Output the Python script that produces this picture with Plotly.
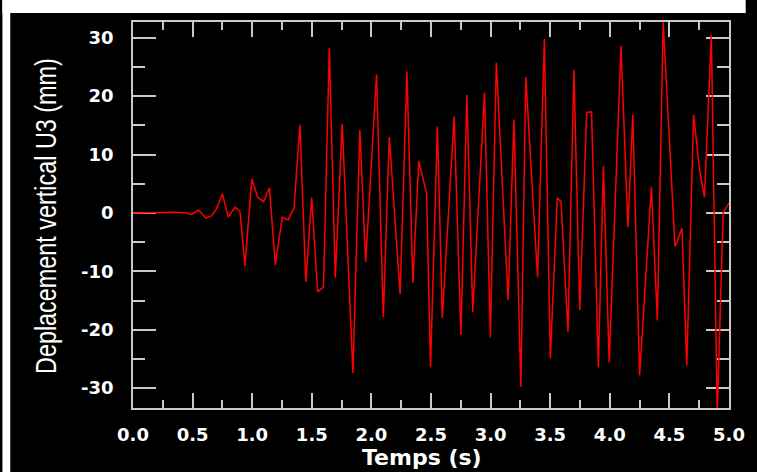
import plotly.graph_objects as go

# Vertical displacement U3 (mm) versus time (s): turning points of the response
t_s = [0.00, 0.35, 0.453, 0.486, 0.552, 0.610, 0.659, 0.700, 0.750, 0.799,
       0.857, 0.898, 0.939, 0.997, 1.046, 1.096, 1.145, 1.194, 1.252, 1.301,
       1.351, 1.400, 1.450, 1.499, 1.549, 1.598, 1.647, 1.697, 1.755, 1.845,
       1.903, 1.952, 2.043, 2.100, 2.150, 2.241, 2.298, 2.348, 2.397, 2.463,
       2.496, 2.554, 2.595, 2.694, 2.751, 2.801, 2.850, 2.949, 2.998, 3.048,
       3.147, 3.196, 3.254, 3.295, 3.394, 3.451, 3.501, 3.559, 3.591, 3.649,
       3.699, 3.748, 3.806, 3.847, 3.904, 3.946, 3.995, 4.094, 4.152, 4.193,
       4.250, 4.349, 4.399, 4.448, 4.547, 4.605, 4.646, 4.703, 4.753, 4.794,
       4.852, 4.901, 4.951, 5.000]
u3_mm = [0.0, 0.1, 0.0, -0.3, 0.5, -0.9, -0.5, 0.7, 3.3, -0.7,
         1.0, 0.2, -9.1, 5.8, 2.7, 1.9, 4.3, -8.9, -0.7, -1.2,
         0.9, 15.1, -11.8, 2.7, -13.5, -12.7, 28.3, -11.1, 15.3, -27.4,
         14.2, -8.4, 23.7, -17.8, 13.0, -13.9, 24.2, -12.0, 8.9, 3.4,
         -26.4, 14.8, -18.0, 16.5, -20.9, 20.2, -17.0, 20.6, -21.3, 25.7,
         -14.9, 16.0, -29.8, 23.3, -11.0, 29.8, -24.9, 2.6, 1.9, -20.4,
         24.5, -16.6, 17.2, 17.3, -26.4, 8.1, -25.6, 28.6, -2.4, 16.8,
         -27.8, 4.5, -18.4, 32.6, -5.8, -2.6, -26.1, 16.8, 7.4, 2.7,
         30.5, -34.5, 0.0, 1.7]

x_ticks = [0.0, 0.5, 1.0, 1.5, 2.0, 2.5, 3.0, 3.5, 4.0, 4.5, 5.0]
x_tick_text = ["0.0", "0.5", "1.0", "1.5", "2.0", "2.5", "3.0", "3.5", "4.0", "4.5", "5.0"]
y_ticks = [30, 20, 10, 0, -10, -20, -30]
y_tick_text = ["30", "20", "10", "0", "-10", "-20", "-30"]

W, H = 757, 472
L, R, T, B = 133, 17, 22, 64
pw, ph = W - L - R, H - T - B


def px(x):
    """pixel column -> paper x"""
    return (x - L) / pw


def py(y):
    """pixel row (from top) -> paper y"""
    return (H - B - y) / ph


tick_font = dict(family="DejaVu Sans", size=18, color="white", weight="bold")
frame = "#c8c8c8"

fig = go.Figure(go.Scatter(x=t_s, y=u3_mm, mode="lines",
                           line=dict(color="#ff0000", width=1.5),
                           showlegend=False))

fig.update_xaxes(range=[0, 5], tickvals=x_ticks, ticktext=x_tick_text,
                 ticks="inside", ticklen=15, tickwidth=1.5, tickcolor=frame,
                 minor=dict(dtick=0.25, tick0=0, ticks="inside", ticklen=8,
                            tickwidth=1.5, tickcolor=frame),
                 showline=True, linecolor=frame, linewidth=1.5, mirror="ticks",
                 showgrid=False, zeroline=False, tickfont=tick_font,
                 ticklabelstandoff=10, layer="below traces")
fig.update_yaxes(range=[-33.4, 32.7], tickvals=y_ticks, ticktext=y_tick_text,
                 ticks="inside", ticklen=23, tickwidth=1.5, tickcolor=frame,
                 minor=dict(dtick=5, tick0=0, ticks="inside", ticklen=12,
                            tickwidth=1.5, tickcolor=frame),
                 showline=True, linecolor=frame, linewidth=1.5, mirror="ticks",
                 showgrid=False, zeroline=False, tickfont=tick_font,
                 ticklabelstandoff=14, layer="below traces")

fig.update_layout(
    width=W, height=H, autosize=False,
    margin=dict(l=L, r=R, t=T, b=B, pad=0),
    paper_bgcolor="black", plot_bgcolor="black",
    shapes=[
        # white border strips along the left and top edges
        dict(type="rect", xref="paper", yref="paper", layer="above",
             x0=px(0), x1=px(8), y0=py(H), y1=py(0),
             fillcolor="white", line=dict(width=0)),
        dict(type="rect", xref="paper", yref="paper", layer="above",
             x0=px(0), x1=px(W), y0=py(13), y1=py(0),
             fillcolor="white", line=dict(width=0)),
    ],
    annotations=[
        dict(text="Deplacement vertical U3 (mm)", xref="paper", yref="paper",
             x=px(43), y=py(216), xanchor="center", yanchor="middle",
             textangle=-90, showarrow=False, borderpad=0,
             font=dict(family="Liberation Sans, Arial", size=30, color="white")),
        dict(text="Temps (s)", xref="paper", yref="paper",
             x=px(427), y=py(471), xanchor="center", yanchor="bottom",
             showarrow=False, borderpad=0,
             font=dict(family="DejaVu Sans", size=22, color="white", weight="bold")),
    ],
)

# page without margins/scrollbars, redraw, then condense the vertical axis title
page_js = (
    "var gd=document.getElementById('{plot_id}');"
    "document.body.style.margin='0';"
    "document.documentElement.style.overflow='hidden';"
    "document.body.style.overflow='hidden';"
    "function condense(){gd.querySelectorAll('.annotation-text').forEach(function(t){"
    "if(t.textContent.indexOf('Deplacement')===0){"
    "t.style.transformBox='fill-box';t.style.transformOrigin='center';"
    "t.style.transform='scaleX(0.78)';}});}"
    "Plotly.relayout(gd,{width:757,height:472}).then(condense);"
    "condense();"
)

fig.write_html("out.html", config={"responsive": False}, post_script=page_js)
